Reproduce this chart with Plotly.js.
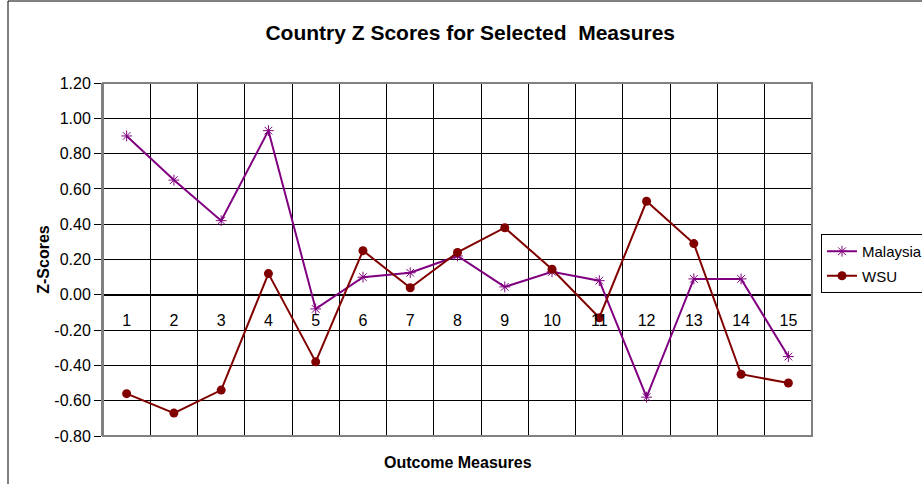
<!DOCTYPE html>
<html>
<head>
<meta charset="utf-8">
<script src="https://cdn.plot.ly/plotly-3.0.1.min.js"></script>
<style>
  body { margin: 0; background: #fff; }
  #plotDiv { width: 922px; height: 484px; }
</style>
</head>
<body>
<div id="plotDiv"></div>
<script>
// outcome measures 1..15
let measures = ["1","2","3","4","5","6","7","8","9","10","11","12","13","14","15"];
let malaysia = [0.90, 0.65, 0.42, 0.93, -0.08, 0.10, 0.125, 0.22, 0.045, 0.13, 0.08, -0.58, 0.09, 0.09, -0.35];
let wsu = [-0.56, -0.67, -0.54, 0.12, -0.38, 0.25, 0.04, 0.24, 0.38, 0.145, -0.13, 0.53, 0.29, -0.45, -0.50];

let yTicks = [-0.8, -0.6, -0.4, -0.2, 0, 0.2, 0.4, 0.6, 0.8, 1.0, 1.2];
let yTickText = ["-0.80","-0.60","-0.40","-0.20","0.00","0.20","0.40","0.60","0.80","1.00","1.20"];

let font = "Arial, 'Liberation Sans', sans-serif";

let data = [
  {
    x: measures, y: malaysia, name: "Malaysia", legendgroup: "a",
    type: "scatter", mode: "lines+markers",
    line: {color: "#800080", width: 2},
    marker: {symbol: "asterisk-open", size: 9, color: "#800080", line: {color: "#800080", width: 1}}
  },
  {
    x: measures, y: wsu, name: "WSU", legendgroup: "b",
    type: "scatter", mode: "lines+markers",
    line: {color: "#800000", width: 2},
    marker: {symbol: "circle", size: 9, color: "#800000"}
  }
];

// zero line crossing sits at this fraction of plot height
let yMin = -0.8, yMax = 1.2;
let zeroPos = (0 - yMin) / (yMax - yMin);

let layout = {
  width: 922,
  height: 484,
  margin: {l: 103, r: 110, t: 83, b: 48},
  paper_bgcolor: "#fff",
  plot_bgcolor: "#fff",
  font: {family: font, size: 16, color: "#000"},
  title: {
    text: "Country Z Scores for Selected\u00a0 Measures",
    font: {family: font, size: 21, color: "#000", weight: "bold"},
    x: 0.51, xanchor: "center",
    y: 1 - 33 / 484, yref: "container", yanchor: "middle"
  },
  xaxis: {
    type: "category",
    range: [-0.5, 14.5],
    tickson: "boundaries",
    anchor: "free",
    position: zeroPos,
    showline: false,
    showgrid: true,
    gridcolor: "#000",
    gridwidth: 1,
    ticks: "outside",
    ticklen: 5,
    tickcolor: "#000",
    tickfont: {family: font, size: 16, color: "#000"},
    ticklabelstandoff: 14,
    zeroline: false,
    fixedrange: true
  },
  yaxis: {
    range: [yMin, yMax],
    tickvals: yTicks,
    ticktext: yTickText,
    showgrid: true,
    gridcolor: "#000",
    gridwidth: 1,
    zeroline: true,
    zerolinecolor: "#000",
    zerolinewidth: 2,
    showline: true,
    linecolor: "#808080",
    linewidth: 2,
    ticks: "outside",
    ticklen: 7,
    tickcolor: "#000",
    tickfont: {family: font, size: 16, color: "#000"},
    title: {text: "Z-Scores", font: {family: font, size: 16, weight: "bold"}, standoff: 1},
    fixedrange: true
  },
  showlegend: true,
  legend: {
    xref: "container", yref: "container",
    x: 821 / 922, xanchor: "left",
    y: 1 - 234 / 484, yanchor: "top",
    bgcolor: "#fff",
    bordercolor: "#000",
    borderwidth: 1,
    font: {family: font, size: 15, color: "#000"},
    tracegroupgap: 2,
    itemwidth: 30
  },
  annotations: [
    {
      text: "<b>Outcome Measures</b>",
      xref: "paper", yref: "paper",
      x: 0.5, y: -27 / 353, xanchor: "center", yanchor: "middle",
      showarrow: false,
      font: {family: font, size: 16, color: "#000"}
    }
  ],
  shapes: [
    // plot area border
    {type: "rect", xref: "paper", yref: "paper", x0: 0, x1: 1, y0: 0, y1: 1,
     line: {color: "#808080", width: 2}, layer: "above"},
    // outer chart border
    {type: "rect", xref: "paper", yref: "paper",
     x0: (8 - 103) / 709, x1: (960 - 103) / 709,
     y0: (436 - 540) / 353, y1: (436 - 1) / 353,
     line: {color: "#000", width: 1}}
  ]
};

Plotly.newPlot("plotDiv", data, layout, {displayModeBar: false, staticPlot: true});
</script>
</body>
</html>
